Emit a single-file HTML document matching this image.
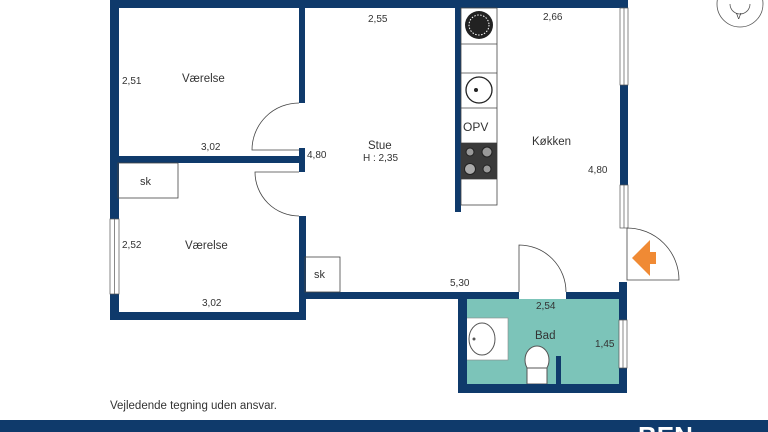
<!DOCTYPE html>
<html><head><meta charset="utf-8"><style>
html,body{margin:0;padding:0;background:#fff;width:768px;height:432px;overflow:hidden}
svg{display:block;overflow:hidden}
text{font-family:"Liberation Sans",sans-serif;fill:#333}
</style></head><body>
<svg width="768" height="432" viewBox="0 0 768 432">
<rect x="466" y="299" width="153" height="85" fill="#7cc4b9"/>
<rect x="466" y="318" width="42" height="42" fill="#fff" stroke="#888" stroke-width="0.6"/>
<ellipse cx="482" cy="339" rx="13" ry="16" fill="#fff" stroke="#555"/>
<circle cx="474" cy="339" r="1.5" fill="#555"/>
<ellipse cx="537" cy="360" rx="12" ry="14" fill="#fff" stroke="#555"/>
<rect x="527" y="368" width="20" height="16" fill="#fff" stroke="#555"/>
<g fill="#0f3a6b">
<rect x="110" y="0" width="518" height="8"/>
<rect x="110" y="0" width="9" height="219"/>
<rect x="110" y="294" width="9" height="26"/>
<rect x="110" y="312" width="196" height="8"/>
<rect x="299" y="8" width="6" height="95"/>
<rect x="299" y="148" width="6" height="24"/>
<rect x="299" y="216" width="7" height="104"/>
<rect x="118" y="156" width="184" height="7"/>
<rect x="455" y="8" width="6" height="204"/>
<rect x="299" y="292" width="220" height="7"/>
<rect x="566" y="292" width="61" height="7"/>
<rect x="458" y="292" width="9" height="101"/>
<rect x="458" y="384" width="169" height="9"/>
<rect x="619" y="282" width="8" height="38"/>
<rect x="619" y="368" width="8" height="25"/>
<rect x="620" y="85" width="8" height="100"/>
<rect x="556" y="356" width="5" height="28"/>
<rect x="0" y="420" width="768" height="12"/>
</g>
<g fill="#fff" stroke="#555" stroke-width="0.7">
<rect x="110" y="219" width="9" height="75"/><line x1="114.5" y1="219" x2="114.5" y2="294"/>
<rect x="620" y="8" width="8" height="77"/><line x1="624" y1="8" x2="624" y2="85"/>
<rect x="620" y="185" width="8" height="43"/><line x1="624" y1="185" x2="624" y2="228"/>
<rect x="619" y="320" width="8" height="48"/><line x1="623" y1="320" x2="623" y2="368"/>
</g>
<g fill="none" stroke="#444" stroke-width="0.8">
<path d="M299 103 A47 47 0 0 0 252 150 L299 150"/>
<path d="M299 172 L255 172 A44 44 0 0 0 299 216"/>
<path d="M519 292 L519 245 A47 47 0 0 1 566 292"/>
<path d="M627 228 A52 52 0 0 1 679 280 L627 280 Z"/>
<rect x="118" y="163" width="60" height="35"/>
<rect x="305" y="257" width="35" height="35"/>
<rect x="461" y="8" width="36" height="197"/>
<line x1="461" y1="44" x2="497" y2="44"/>
<line x1="461" y1="73" x2="497" y2="73"/>
<line x1="461" y1="108" x2="497" y2="108"/>
<line x1="461" y1="143" x2="497" y2="143"/>
<line x1="461" y1="179" x2="497" y2="179"/>
<circle cx="479" cy="90" r="13" stroke="#222" stroke-width="1.3"/>
<circle cx="740" cy="4" r="23" stroke="#555"/>
<path d="M730 4 A10 10 0 0 0 750 4" stroke="#555"/>
</g>
<circle cx="479" cy="25" r="14" fill="#222"/>
<circle cx="479" cy="25" r="10" fill="none" stroke="#fff" stroke-width="1" stroke-dasharray="1.5 1.5"/>
<rect x="461" y="143" width="36" height="36" fill="#3a3a3a"/>
<circle cx="470" cy="152" r="4" fill="#999" stroke="#222"/>
<circle cx="487" cy="152" r="5" fill="#999" stroke="#222"/>
<circle cx="470" cy="169" r="5.5" fill="#aaa" stroke="#222"/>
<circle cx="487" cy="169" r="4" fill="#999" stroke="#222"/>
<circle cx="476" cy="90" r="2" fill="#222"/>
<path d="M650 240 L632 258 L650 276 L650 264 L656 264 L656 252 L650 252 Z" fill="#f08a34"/>
<g font-size="11.5">
<text x="182" y="82">Værelse</text>
<text x="185" y="249">Værelse</text>
<text x="368" y="149">Stue</text>
<text x="532" y="145">Køkken</text>
<text x="535" y="339">Bad</text>
<text x="463" y="131" font-size="12">OPV</text>
<text x="140" y="185" font-size="11">sk</text>
<text x="314" y="278" font-size="11">sk</text>
</g>
<g font-size="10">
<text x="368" y="22">2,55</text>
<text x="543" y="20">2,66</text>
<text x="122" y="84">2,51</text>
<text x="201" y="150">3,02</text>
<text x="307" y="158">4,80</text>
<text x="363" y="161">H : 2,35</text>
<text x="588" y="173">4,80</text>
<text x="122" y="248">2,52</text>
<text x="202" y="306">3,02</text>
<text x="450" y="286">5,30</text>
<text x="536" y="309">2,54</text>
<text x="595" y="347">1,45</text>
<text x="736" y="19" font-size="8" fill="#333">V</text>
</g>
<text x="110" y="409" font-size="11.5">Vejledende tegning uden ansvar.</text>
<text x="638" y="445" font-size="26" font-weight="bold" style="fill:#fff">BEN</text>
</svg>
</body></html>
